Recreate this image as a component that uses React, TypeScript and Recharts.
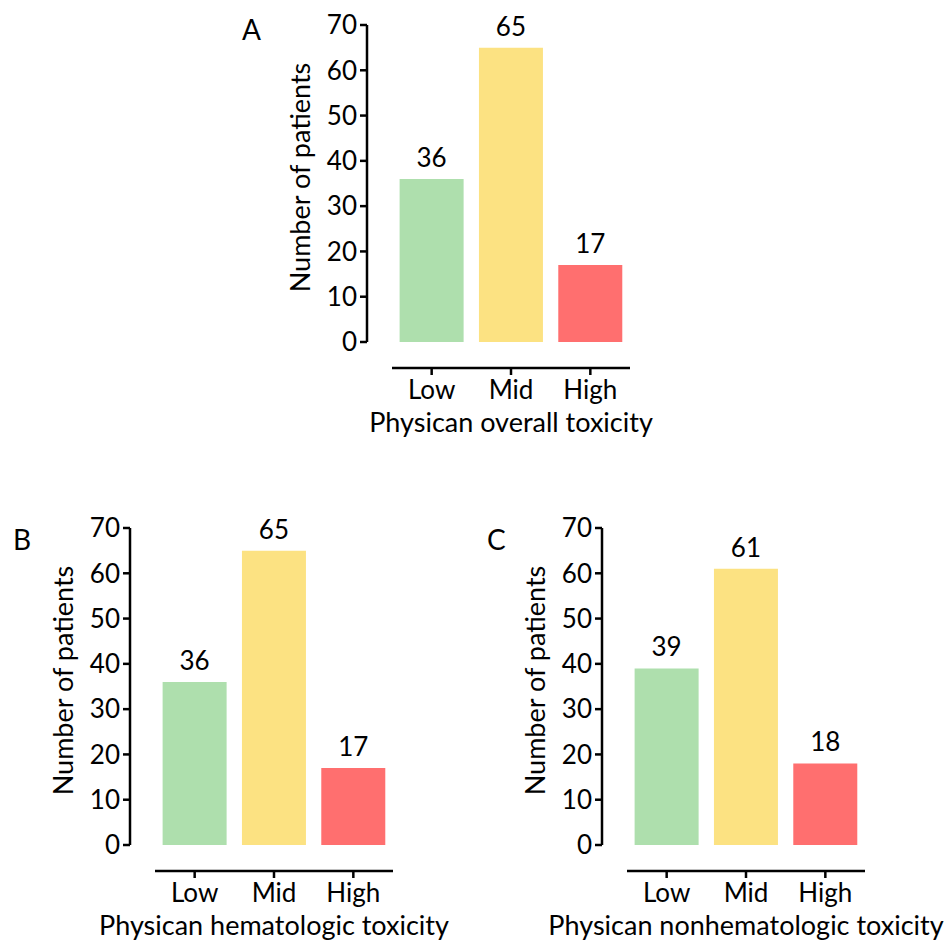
import { Bar, BarChart, Cell, LabelList, XAxis, YAxis } from "recharts";

const categories = ["Low", "Mid", "High"];
const overallCounts = [36, 65, 17];
const hematologicCounts = [36, 65, 17];
const nonhematologicCounts = [39, 61, 18];
const yTicks = [0, 10, 20, 30, 40, 50, 60, 70];

const barColors = ["#aedfad", "#fce282", "#ff6f6f"];

// shared panel geometry
const Y_AXIS_W = 137;
const PLOT_W = 263;
const PLOT_H = 317;
const PAD_LEFT = 25;
const TOP = 25;
const X_AXIS_H = 108;
const RIGHT = 80;
const AXIS_DROP = 26;
const BAND = (PLOT_W - PAD_LEFT) / categories.length;
const INK = "#000";

// x axis is detached below the bars, so it is drawn from the tick renderer
function CategoryTick(props: any) {
  const { x, y, payload, index } = props;
  const lineY = y + AXIS_DROP;
  return (
    <g>
      {index === 0 && (
        <line
          x1={x - BAND / 2}
          x2={x - BAND / 2 + BAND * categories.length}
          y1={lineY}
          y2={lineY}
          stroke={INK}
          strokeWidth={2.5}
        />
      )}
      <line x1={x} x2={x} y1={lineY} y2={lineY + 7} stroke={INK} strokeWidth={2.5} />
      <text x={x} y={y + 57} textAnchor="middle" fontSize={26} fill={INK}>
        {payload.value}
      </text>
    </g>
  );
}

type PanelProps = {
  letter: string;
  title: string;
  counts: number[];
  left: number;
  top: number;
  letterX: number;
  letterY: number;
};

function Panel({ letter, title, counts, left, top, letterX, letterY }: PanelProps) {
  const data = categories.map((level, i) => ({ level, count: counts[i] }));

  return (
    <div style={{ position: "absolute", left, top }}>
      <BarChart
        width={Y_AXIS_W + PLOT_W + RIGHT}
        height={TOP + PLOT_H + X_AXIS_H}
        data={data}
        margin={{ top: TOP, right: RIGHT, bottom: 0, left: 0 }}
        barCategoryGap="9.6%"
      >
        <YAxis
          type="number"
          domain={[0, 70]}
          ticks={yTicks}
          interval={0}
          width={Y_AXIS_W}
          axisLine={{ stroke: INK, strokeWidth: 2.5 }}
          tickLine={{ stroke: INK, strokeWidth: 2.5 }}
          tickSize={7}
          tickMargin={3}
          tick={{ fill: INK, fontSize: 26 }}
          label={{
            content: (p: any) => {
              const { x, y, width, height } = p.viewBox;
              const cx = x + width - 68;
              const cy = y + height / 2 - 6;
              return (
                <g>
                  <text
                    x={cx}
                    y={cy}
                    transform={`rotate(-90 ${cx} ${cy})`}
                    textAnchor="middle"
                    dominantBaseline="central"
                    fontSize={27}
                    fill={INK}
                  >
                    Number of patients
                  </text>
                  <text x={letterX} y={letterY} fontSize={28} fill={INK}>
                    {letter}
                  </text>
                </g>
              );
            },
          }}
        />
        <XAxis
          dataKey="level"
          height={X_AXIS_H}
          padding={{ left: PAD_LEFT, right: 0 }}
          axisLine={false}
          tickLine={false}
          tickSize={0}
          tickMargin={0}
          interval={0}
          tick={<CategoryTick />}
          label={{
            content: (p: any) => {
              const { x, y, width } = p.viewBox;
              return (
                <text
                  x={x + PAD_LEFT + (width - PAD_LEFT) / 2}
                  y={y + 90}
                  textAnchor="middle"
                  fontSize={27}
                  fill={INK}
                >
                  {title}
                </text>
              );
            },
          }}
        />
        <Bar dataKey="count" isAnimationActive={false}>
          {data.map((d, i) => (
            <Cell key={d.level} fill={barColors[i]} />
          ))}
          <LabelList dataKey="count" position="top" offset={12} fill={INK} fontSize={26} />
        </Bar>
      </BarChart>
    </div>
  );
}

export default function App() {
  return (
    <div
      style={{
        position: "absolute",
        left: 0,
        top: 0,
        width: 946,
        height: 942,
        background: "#fff",
        fontFamily: "Lato, sans-serif",
        overflow: "hidden",
      }}
    >
      <Panel
        letter="A"
        title="Physican overall toxicity"
        counts={overallCounts}
        left={230}
        top={0}
        letterX={12}
        letterY={40}
      />
      <Panel
        letter="B"
        title="Physican hematologic toxicity"
        counts={hematologicCounts}
        left={-7}
        top={503}
        letterX={20}
        letterY={47}
      />
      <Panel
        letter="C"
        title="Physican nonhematologic toxicity"
        counts={nonhematologicCounts}
        left={465}
        top={503}
        letterX={22}
        letterY={47}
      />
    </div>
  );
}
